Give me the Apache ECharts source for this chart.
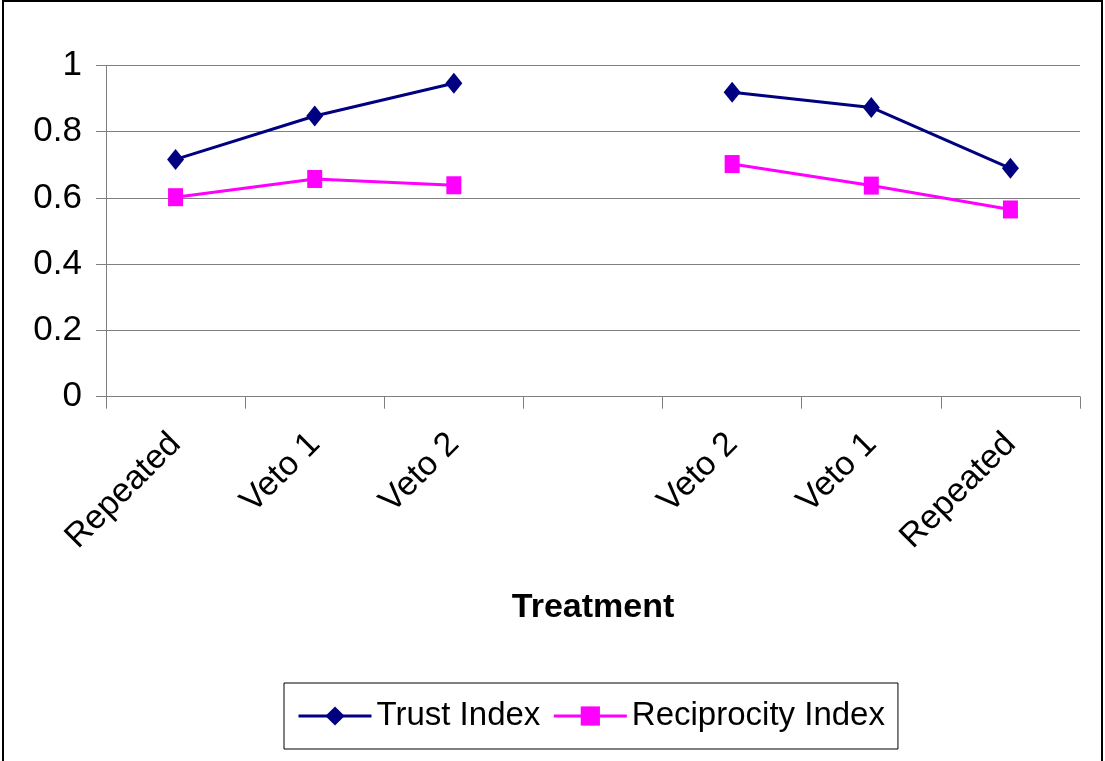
<!DOCTYPE html>
<html>
<head>
<meta charset="utf-8">
<script src="https://cdn.jsdelivr.net/npm/echarts@6/dist/echarts.min.js"></script>
<style>
html,body{margin:0;padding:0;background:#fff;}
#chart{width:1105px;height:761px;}
</style>
</head>
<body>
<div id="chart"></div>
<script>
var categories = ['Repeated', 'Veto 1', 'Veto 2', '', 'Veto 2', 'Veto 1', 'Repeated'];
var trustIndex = [0.716, 0.847, 0.946, null, 0.919, 0.873, 0.689];
var reciprocityIndex = [0.602, 0.657, 0.638, null, 0.702, 0.637, 0.565];
var yTicks = [0, 0.2, 0.4, 0.6, 0.8, 1];

var FONT = '"Liberation Sans", Arial, sans-serif';
var chart = echarts.init(document.getElementById('chart'));
chart.setOption({
  animation: false,
  backgroundColor: '#ffffff',
  graphic: [{
    type: 'rect',
    shape: { x: 3, y: 1, width: 1099, height: 780 },
    style: { fill: null, stroke: '#000000', lineWidth: 2 },
    silent: true
  }],
  grid: { left: 106, right: 25, top: 65.3, bottom: 364.3, containLabel: false },
  legend: {
    left: 284, top: 683,
    padding: [11, 13, 11, 13],
    borderColor: '#000000', borderWidth: 1,
    itemWidth: 73, itemHeight: 24, itemGap: 12,
    textStyle: { fontFamily: FONT, fontSize: 33, color: '#000000', lineHeight: 44 },
    lineStyle: { width: 3 },
    data: ['Trust Index', 'Reciprocity Index']
  },
  xAxis: {
    type: 'category',
    data: categories,
    boundaryGap: true,
    name: 'Treatment',
    nameLocation: 'middle',
    nameGap: 194,
    nameTextStyle: { fontFamily: FONT, fontSize: 34, fontWeight: 'bold', color: '#000000' },
    axisLine: { lineStyle: { color: '#808080', width: 1 } },
    axisTick: { show: true, length: 12, alignWithLabel: false, lineStyle: { color: '#808080' } },
    axisLabel: { rotate: 45, margin: 42, fontFamily: FONT, fontSize: 34, color: '#000000', interval: 0 },
    splitLine: { show: false }
  },
  yAxis: {
    type: 'value',
    min: 0, max: 1, interval: 0.2,
    axisLine: { show: true, lineStyle: { color: '#808080', width: 1 } },
    axisTick: { show: true, length: 10, inside: false, lineStyle: { color: '#808080' } },
    axisLabel: {
      margin: 24, fontFamily: FONT, fontSize: 35, color: '#000000',
      formatter: function (v) {
        for (var i = 0; i < yTicks.length; i++) { if (Math.abs(yTicks[i] - v) < 1e-9) return String(yTicks[i]); }
        return '';
      }
    },
    splitLine: { show: true, lineStyle: { color: '#808080', width: 1 } }
  },
  series: [{
    name: 'Trust Index',
    type: 'line',
    data: trustIndex,
    connectNulls: false,
    symbol: 'diamond',
    symbolSize: [17, 21],
    itemStyle: { color: '#000080' },
    lineStyle: { color: '#000080', width: 3 }
  }, {
    name: 'Reciprocity Index',
    type: 'line',
    data: reciprocityIndex,
    connectNulls: false,
    symbol: 'rect',
    symbolSize: [15, 18],
    itemStyle: { color: '#FF00FF' },
    lineStyle: { color: '#FF00FF', width: 3 }
  }]
});
</script>
</body>
</html>
